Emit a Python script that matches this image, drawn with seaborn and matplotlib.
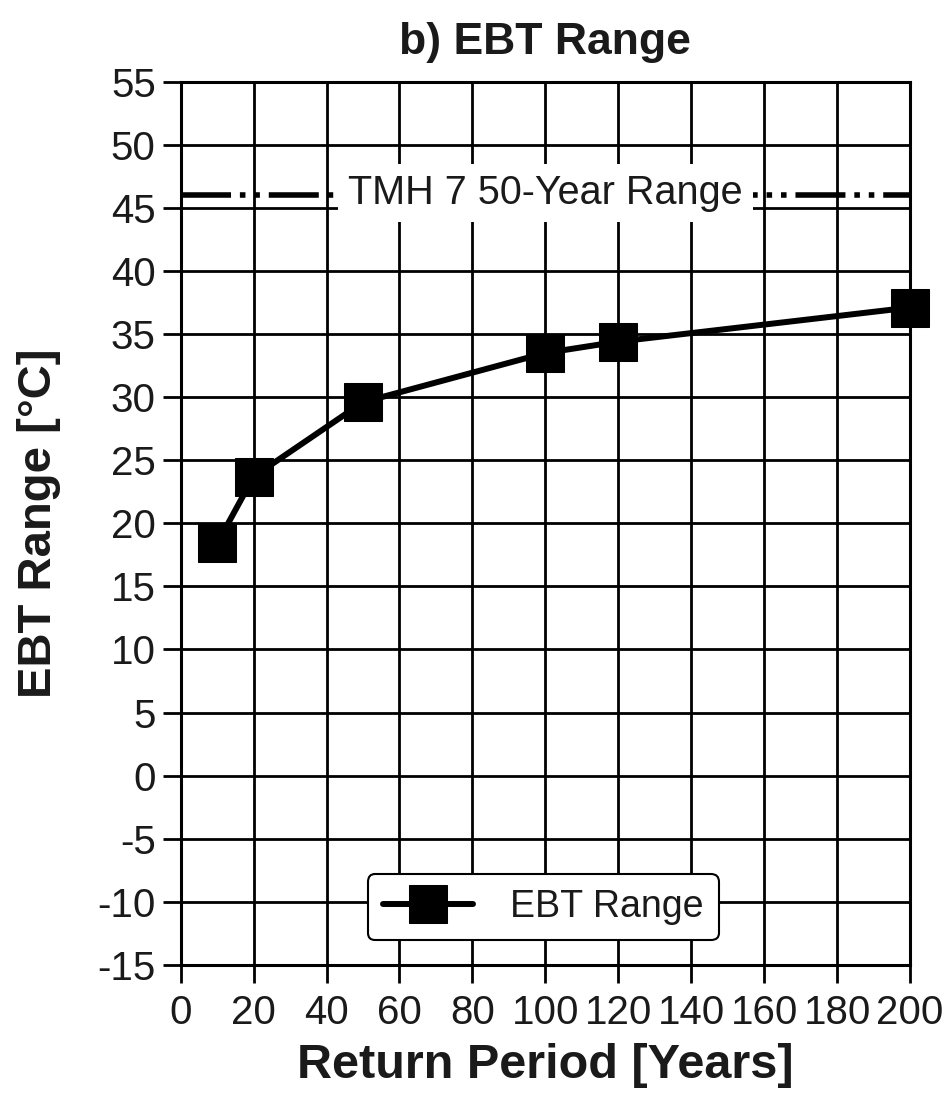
import matplotlib
matplotlib.use("Agg")
import matplotlib.pyplot as plt
import seaborn as sns
import pandas as pd

# Data
return_period = [10, 20, 50, 100, 120, 200]
ebt_range = [18.4, 23.7, 29.6, 33.5, 34.4, 37.1]
tmh7_range = 46.0
tmh7_label = "TMH 7 50-Year Range"
series_label = "EBT Range"
x_ticks = list(range(0, 201, 20))
y_ticks = list(range(-15, 56, 5))

sns.set_theme(style="white")
plt.rcParams['font.family'] = ['Liberation Sans', 'DejaVu Sans']
plt.rcParams['axes.unicode_minus'] = False

fig = plt.figure(figsize=(9.46, 11.04), dpi=100)
ax = fig.add_axes([0.191, 0.126, 0.771, 0.8])

df = pd.DataFrame({"Return Period": return_period, "EBT Range": ebt_range})

# reference horizontal line
ax.axhline(tmh7_range, color="black", lw=4, dashes=(9, 1.6, 1, 1.6, 1, 1.6), zorder=3)
ax.text(100, tmh7_range + 0.2, tmh7_label, ha="center", va="center", fontsize=28.5,
        color="#1a1a1a",
        bbox=dict(facecolor="white", edgecolor="none", pad=7), zorder=4)

sns.lineplot(data=df, x="Return Period", y="EBT Range", ax=ax, color="black",
             lw=4.3, marker="s", markersize=27, markeredgecolor="black",
             markerfacecolor="black", label=series_label, zorder=5, clip_on=False)

ax.set_xlim(0, 200)
ax.set_ylim(-15, 55)
ax.set_xticks(x_ticks)
ax.set_yticks(y_ticks)
ax.grid(True, color="black", lw=2)
ax.set_axisbelow(True)
for s in ax.spines.values():
    s.set_color("black")
    s.set_linewidth(2.2)
ax.tick_params(axis="both", direction="out", length=13, width=2, colors="black",
               labelsize=29, pad=5, labelcolor="#1a1a1a", bottom=True, left=True)
ax.tick_params(axis="x", pad=8)

ax.set_xlabel("Return Period [Years]", fontsize=35, fontweight="bold", labelpad=8,
              color="#1a1a1a")
ax.set_ylabel("EBT Range [°C]", fontsize=34, fontweight="bold", labelpad=26,
              color="#1a1a1a")
ax.set_title("b) EBT Range", fontsize=32, fontweight="bold", pad=20, color="#1a1a1a")

leg = ax.legend(loc="lower center", bbox_to_anchor=(0.497, 0.028), borderaxespad=0,
                fontsize=27, frameon=True, fancybox=True, handlelength=2.4,
                handletextpad=1.0, borderpad=0.4, markerscale=1.0)
leg.get_frame().set_edgecolor("black")
leg.get_frame().set_linewidth(1.5)
leg.get_frame().set_alpha(1)
for t in leg.get_texts():
    t.set_color("#1a1a1a")

fig.savefig("out.png", dpi=100)
